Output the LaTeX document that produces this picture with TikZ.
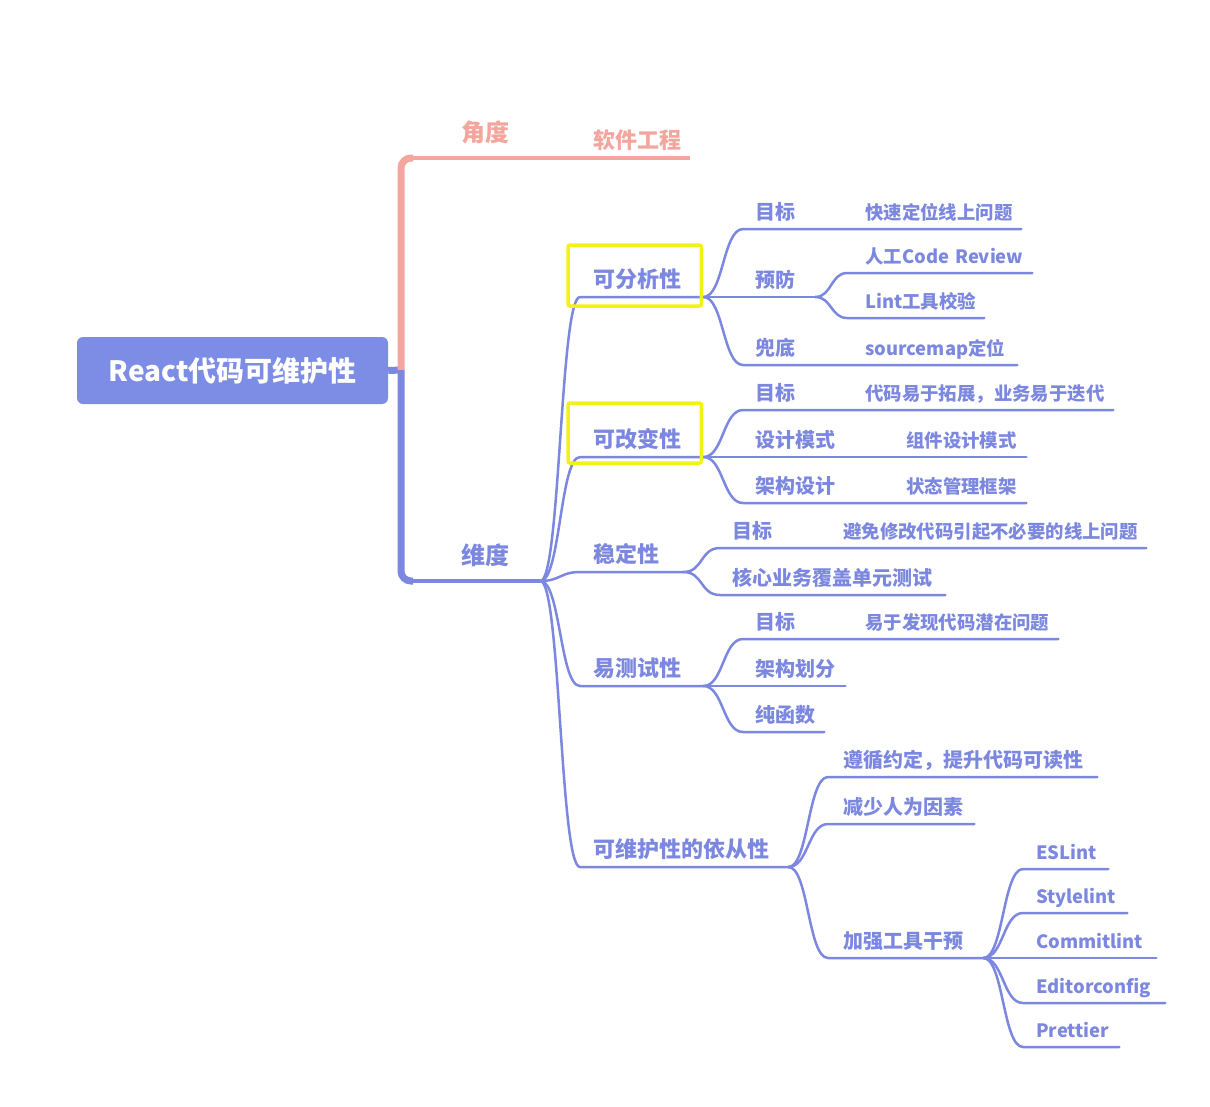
\documentclass[tikz,border=0pt]{standalone}
\usepackage{fontspec}
\setmainfont{Noto Sans CJK SC}
\usepackage{xcolor}
\usetikzlibrary{positioning, calc}
\definecolor{mindblue}{RGB}{124,136,224}
\definecolor{rootblue}{RGB}{125,140,228}
\definecolor{anglepink}{RGB}{244,166,158}
\definecolor{markyellow}{RGB}{242,242,20}

\begin{document}
\begin{tikzpicture}[
    x=1pt, y=-1pt,
    topic/.style={anchor=south west, inner xsep=0pt, inner ysep=7pt, text depth=0.2em, align=left, text=mindblue},
    lvzero/.style={topic, inner ysep=14pt, font=\bfseries\fontsize{24}{28}\selectfont},
    lvone/.style={topic, font=\bfseries\fontsize{22}{26}\selectfont},
    lvtwo/.style={topic, font=\bfseries\fontsize{20}{24}\selectfont},
    lvthree/.style={topic, font=\bfseries\fontsize{18.4}{22}\selectfont},
    rootbox/.style={rectangle, fill=rootblue, text=white, rounded corners=6pt, minimum width=311pt, minimum height=67pt, inner sep=0pt, font=\bfseries\fontsize{28}{32}\selectfont},
    trunk/.style={line width=7pt, rounded corners=10pt},
    stem/.style={draw=mindblue, line width=3.5pt},
    branch/.style={draw=mindblue, line width=2.5pt, line cap=round},
    branchcurve/.style={to path={.. controls +(#1,0) and +(-#1,0) .. (\tikztotarget)}},
    branchcurve/.default=20,
    markbox/.style={draw=markyellow, line width=3.5pt, rounded corners=2pt}
]
\fill[white] (0,0) rectangle (1210,1106);
\useasboundingbox (0,0) rectangle (1210,1106);

% Root
\node[rootbox] (root) at (232.5,370.5) {React代码可维护性};

% Angle and dimension
\node[lvzero, text=anglepink, text width=127pt] (ang) at (413,158) {\hspace*{48pt}角度};
\node[lvone, text=anglepink, text width=150pt] (soft) at (540,158) {\hspace*{53pt}软件工程};
\node[lvzero, text width=127pt] (dim) at (413,581) {\hspace*{48pt}维度};

% Qualities
\node[lvone, text width=123pt] (ana) at (580,297) {\hspace*{13pt}可分析性};
\node[lvone, text width=123pt] (chg) at (580,457) {\hspace*{13pt}可改变性};
\node[lvone, text width=103pt] (stb) at (580,572) {\hspace*{13pt}稳定性};
\node[lvone, text width=123pt] (tst) at (580,686) {\hspace*{13pt}易测试性};
\node[lvone, text width=208pt] (cmp) at (580,867) {\hspace*{13pt}可维护性的依从性};

% Analysability
\node[lvtwo, text width=106pt] (anagoal) at (743,229) {\hspace*{12pt}目标};
\node[lvthree, text width=172pt] (anagoaltx) at (849,229) {\hspace*{16pt}快速定位线上问题};
\node[lvtwo, text width=72pt] (anapre) at (743,297) {\hspace*{12pt}预防};
\node[lvthree, text width=185pt] (anareview) at (847,273) {\hspace*{18pt}人工Code Review};
\node[lvthree, text width=137pt] (analint) at (847,318) {\hspace*{18pt}Lint工具校验};
\node[lvtwo, text width=106pt] (anabot) at (743,365) {\hspace*{12pt}兜底};
\node[lvthree, text width=168pt] (anabottx) at (849,365) {\hspace*{16pt}sourcemap定位};

% Changeability
\node[lvtwo, text width=106pt] (chggoal) at (743,410) {\hspace*{12pt}目标};
\node[lvthree, text width=264pt] (chggoaltx) at (849,410) {\hspace*{16pt}代码易于拓展，业务易于迭代};
\node[lvtwo, text width=147pt] (chgpat) at (743,457) {\hspace*{12pt}设计模式};
\node[lvthree, text width=136pt] (chgpattx) at (890,457) {\hspace*{16pt}组件设计模式};
\node[lvtwo, text width=147pt] (chgarch) at (743,503) {\hspace*{12pt}架构设计};
\node[lvthree, text width=136pt] (chgarchtx) at (890,503) {\hspace*{16pt}状态管理框架};

% Stability
\node[lvtwo, text width=108pt] (stbgoal) at (720,548) {\hspace*{12pt}目标};
\node[lvthree, text width=318pt] (stbgoaltx) at (828,548) {\hspace*{15pt}避免修改代码引起不必要的线上问题};
\node[lvtwo, text width=225pt] (stbcore) at (720,595) {\hspace*{12pt}核心业务覆盖单元测试};

% Testability
\node[lvtwo, text width=106pt] (tstgoal) at (743,639) {\hspace*{12pt}目标};
\node[lvthree, text width=209pt] (tstgoaltx) at (849,639) {\hspace*{16pt}易于发现代码潜在问题};
\node[lvtwo, text width=102pt] (tstarch) at (743,686) {\hspace*{12pt}架构划分};
\node[lvtwo, text width=81pt] (tstpure) at (743,732) {\hspace*{12pt}纯函数};

% Compliance
\node[lvtwo, text width=269pt] (cmpconv) at (828,777) {\hspace*{15pt}遵循约定，提升代码可读性};
\node[lvtwo, text width=146pt] (cmpless) at (828,824) {\hspace*{15pt}减少人为因素};
\node[lvtwo, text width=155pt] (cmptool) at (828,958) {\hspace*{15pt}加强工具干预};
\node[lvthree, text width=85pt] (eslint) at (1023,869) {\hspace*{13pt}ESLint};
\node[lvthree, text width=104pt] (stylelint) at (1023,913) {\hspace*{13pt}Stylelint};
\node[lvthree, text width=133pt] (commitlint) at (1023,958) {\hspace*{13pt}Commitlint};
\node[lvthree, text width=142pt] (editorconfig) at (1023,1003) {\hspace*{13pt}Editorconfig};
\node[lvthree, text width=96pt] (prettier) at (1023,1047) {\hspace*{13pt}Prettier};

% Trunk
\coordinate (hub) at (401,370);
\draw[trunk, draw=mindblue] (root.east) -- (hub);
\draw[trunk, draw=anglepink] (hub) |- (ang.south west);
\draw[trunk, draw=mindblue] (hub) |- (dim.south west);
\draw[stem, draw=anglepink] (ang.south west) -- (ang.south east) -- (soft.south east);
\draw[stem] (dim.south west) -- (dim.south east);

% Quality branches
\draw[branch] (dim.south east) to[branchcurve] (ana.south west) -- (ana.south east);
\draw[branch] (dim.south east) to[branchcurve] (chg.south west) -- (chg.south east);
\draw[branch] (dim.south east) to[branchcurve] (stb.south west) -- (stb.south east);
\draw[branch] (dim.south east) to[branchcurve] (tst.south west) -- (tst.south east);
\draw[branch] (dim.south east) to[branchcurve] (cmp.south west) -- (cmp.south east);

% Analysability branches
\draw[branch] (ana.south east) to[branchcurve] (anagoal.south west) -- (anagoal.south east) -- (anagoaltx.south east);
\draw[branch] (ana.south east) -- (anapre.south east);
\draw[branch] (anapre.south east) to[branchcurve=16] (anareview.south west) -- (anareview.south east);
\draw[branch] (anapre.south east) to[branchcurve=16] (analint.south west) -- (analint.south east);
\draw[branch] (ana.south east) to[branchcurve] (anabot.south west) -- (anabot.south east) -- (anabottx.south east);

% Changeability branches
\draw[branch] (chg.south east) to[branchcurve] (chggoal.south west) -- (chggoal.south east) -- (chggoaltx.south east);
\draw[branch] (chg.south east) -- (chgpat.south east) -- (chgpattx.south east);
\draw[branch] (chg.south east) to[branchcurve] (chgarch.south west) -- (chgarch.south east) -- (chgarchtx.south east);

% Stability branches
\draw[branch] (stb.south east) to[branchcurve] (stbgoal.south west) -- (stbgoal.south east) -- (stbgoaltx.south east);
\draw[branch] (stb.south east) to[branchcurve] (stbcore.south west) -- (stbcore.south east);

% Testability branches
\draw[branch] (tst.south east) to[branchcurve] (tstgoal.south west) -- (tstgoal.south east) -- (tstgoaltx.south east);
\draw[branch] (tst.south east) -- (tstarch.south east);
\draw[branch] (tst.south east) to[branchcurve] (tstpure.south west) -- (tstpure.south east);

% Compliance branches
\draw[branch] (cmp.south east) to[branchcurve] (cmpconv.south west) -- (cmpconv.south east);
\draw[branch] (cmp.south east) to[branchcurve] (cmpless.south west) -- (cmpless.south east);
\draw[branch] (cmp.south east) to[branchcurve] (cmptool.south west) -- (cmptool.south east);
\draw[branch] (cmptool.south east) to[branchcurve] (eslint.south west) -- (eslint.south east);
\draw[branch] (cmptool.south east) to[branchcurve] (stylelint.south west) -- (stylelint.south east);
\draw[branch] (cmptool.south east) -- (commitlint.south east);
\draw[branch] (cmptool.south east) to[branchcurve] (editorconfig.south west) -- (editorconfig.south east);
\draw[branch] (cmptool.south east) to[branchcurve] (prettier.south west) -- (prettier.south east);

% Highlights
\draw[markbox] ([shift={(-12,-52)}]ana.south west) rectangle ([shift={(-2,9)}]ana.south east);
\draw[markbox] ([shift={(-12,-54)}]chg.south west) rectangle ([shift={(-2,6)}]chg.south east);

\end{tikzpicture}
\end{document}
